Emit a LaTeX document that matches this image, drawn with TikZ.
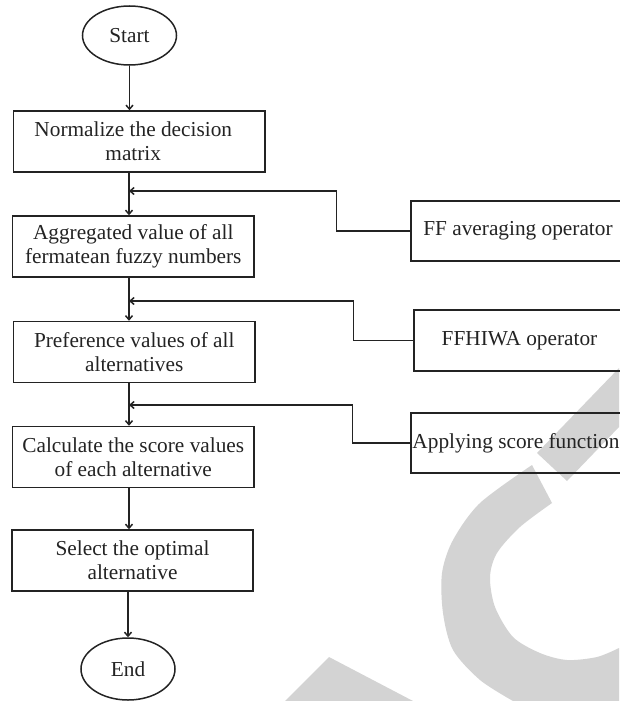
\documentclass[tikz,border=0pt]{standalone}
\usepackage{fontspec}
\setmainfont{Liberation Serif}
\usetikzlibrary{shapes.geometric,arrows.meta}
\definecolor{wmgray}{RGB}{211,211,211}
\definecolor{ink}{RGB}{35,35,35}
\begin{document}
\begin{tikzpicture}[x=1pt,y=-1pt,
  every node/.style={font=\fontsize{21.3}{24}\selectfont, text=ink},
  box/.style={draw=ink, line width=1.5pt, align=center, inner sep=0pt},
  term/.style={draw=ink, line width=1.5pt, ellipse, inner sep=0pt},
  arr/.style={draw=ink, line width=1.5pt, -{Straight Barb[length=4pt,width=7pt]}},
  wm/.style={fill=wmgray, draw=none}]
\useasboundingbox (0,0) rectangle (619,701);

% watermark
\fill[wm] (619,368) -- (537,453) -- (567,481) -- (619,427) -- cycle;
\fill[wm] plot[smooth] coordinates {(532,465) (480,503) (453,540) (442,573) (443,613) (453,650) (480,680) (513,701)}
  -- (619,701) -- (619,648)
  -- plot[smooth] coordinates {(619,648) (597,657) (567,660) (540,653) (513,637) (495,607) (490,577) (497,553) (520,527) (552,503)}
  -- cycle;
\fill[wm] (285,701) -- (329,657) -- (413,701) -- cycle;

% nodes
\node[term, minimum width=94, minimum height=59] (start) at (129.5,35.5) {Start};
\node[box, minimum width=251.5, minimum height=61] (B1) at (139.25,141.5) {Normalize the decision\hspace*{12pt}\\matrix\hspace*{12pt}};
\node[box, minimum width=241.5, minimum height=61] (B2) at (133.25,246.5) {Aggregated value of all\\fermatean fuzzy numbers};
\node[box, minimum width=241.5, minimum height=61] (B3) at (134.25,352) {Preference values of all\\alternatives};
\node[box, minimum width=241.5, minimum height=61] (B4) at (133.25,457) {Calculate the score values\\of each alternative};
\node[box, minimum width=241, minimum height=61] (B5) at (132.5,560.5) {Select the optimal\\alternative};
\node[term, minimum width=94, minimum height=62] (end) at (128,669) {End};

\node[box, minimum width=214, minimum height=60] (FF) at (518,231) {FF averaging operator};
\node[box, minimum width=211, minimum height=61] (FH) at (519.5,340.5) {FFHIWA operator};
\node[box, minimum width=214, minimum height=60] (SC) at (518,443) {\hspace*{-4pt}Applying score function};

\coordinate (col) at (129,0);
\coordinate (j1) at (129,191);
\coordinate (j2) at (129,301);
\coordinate (j3) at (129,405);

% main flow
\draw[arr] (start.south) -- (start.south |- B1.north);
\draw[arr] (B1.south -| col) -- (B2.north -| col);
\draw[arr] (B2.south -| col) -- (B3.north -| col);
\draw[arr] (B3.south -| col) -- (B4.north -| col);
\draw[arr] (B4.south -| col) -- (B5.north -| col);
\draw[arr] (B5.south -| end) -- (end.north);

% side inputs
\draw[arr] (FF.west) -- ++(-74,0) |- (j1);
\draw[arr] (FH.west) -- ++(-60,0) |- (j2);
\draw[arr] (SC.west) -- ++(-58,0) |- (j3);
\end{tikzpicture}
\end{document}
